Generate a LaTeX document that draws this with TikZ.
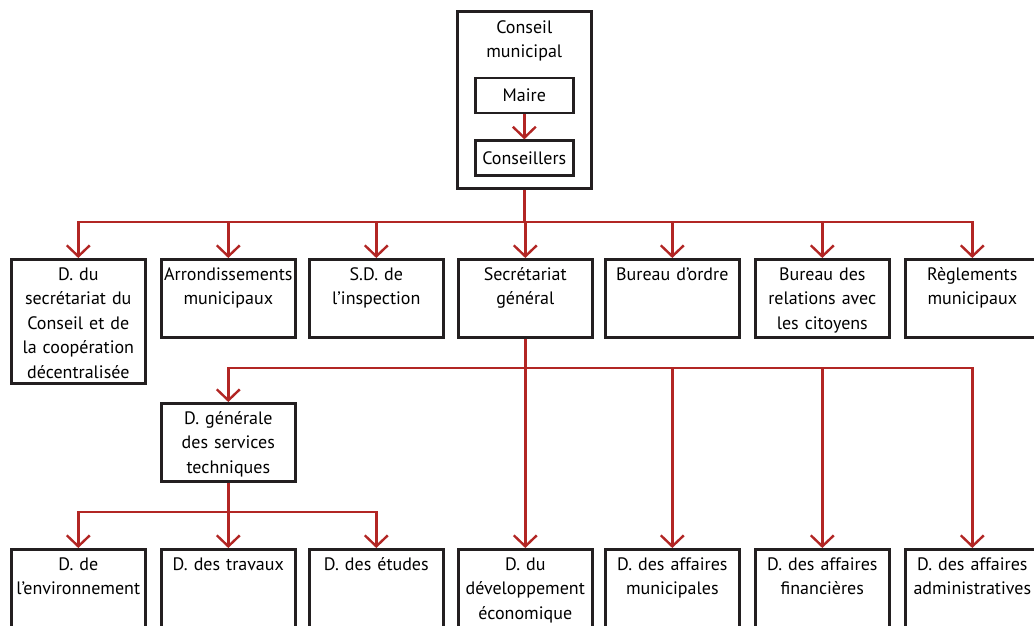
\documentclass[tikz,border=0pt]{standalone}
\usepackage{fontspec}
\setmainfont{PT Sans}
\usetikzlibrary{arrows.meta, positioning}
\definecolor{LinkRed}{RGB}{178, 38, 36}
\definecolor{BoxBlack}{RGB}{35, 31, 32}

\begin{document}
\begin{tikzpicture}[
    x=1pt, y=-1pt,
    unit/.style={
      draw=BoxBlack,
      line width=2.6pt,
      anchor=north west,
      text width=130pt,
      align=center,
      inner xsep=2pt,
      inner ysep=0pt,
      text height=21pt,
      text depth=57pt,
      font=\fontsize{18}{24.5}\selectfont
    },
    member/.style={
      draw=BoxBlack,
      line width=2.4pt,
      minimum width=98pt,
      minimum height=35pt,
      inner sep=0pt,
      font=\fontsize{18}{24.5}\selectfont
    },
    link/.style={draw=LinkRed, line width=2.4pt},
    flow/.style={link, -{Straight Barb[length=11pt, width=23pt]}}
  ]
  \clip (0,0) rectangle (1034,625);

  \node[unit, text height=22pt, text depth=155pt] (conseil) at (456,10) {Conseil\\municipal};
  \node[member, below=67pt of conseil.north] (maire) {Maire};
  \node[member, below=25pt of maire] (conseillers) {Conseillers};
  \draw[flow] (maire) -- (conseillers);

  \node[unit, text depth=103pt] (dsc) at (10,258) {D. du\\secrétariat du\\Conseil et de\\la coopération\\décentralisée};
  \node[unit] (arr) at (160,258) {Arrondissements\\municipaux};
  \node[unit] (sdi) at (308,258) {S.D. de\\l’inspection};
  \node[unit] (sg) at (457,258) {Secrétariat\\général};
  \node[unit] (bo) at (604,258) {Bureau d’ordre};
  \node[unit] (brc) at (754,258) {Bureau des\\relations avec\\les citoyens};
  \node[unit] (reg) at (904,258) {Règlements\\municipaux};

  \node[unit] (dgst) at (160,402) {D. générale\\des services\\techniques};

  \node[unit, text depth=90pt] (denv) at (10,548) {D. de\\l’environnement};
  \node[unit, text depth=90pt] (dtrav) at (160,548) {D. des travaux};
  \node[unit, text depth=90pt] (detu) at (308,548) {D. des études};
  \node[unit, text depth=90pt] (ddev) at (457,548) {D. du\\développement\\économique};
  \node[unit, text depth=90pt] (dmun) at (604,548) {D. des affaires\\municipales};
  \node[unit, text depth=90pt] (dfin) at (754,548) {D. des affaires\\financières};
  \node[unit, text depth=90pt] (dadm) at (904,548) {D. des affaires\\administratives};

  \coordinate (top bus) at (conseil.south |- 0,222);
  \draw[link] (conseil.south) -- (top bus);
  \foreach \n in {dsc, arr, sdi, sg, bo, brc, reg}
    \draw[flow] (top bus) -| (\n.north);

  \coordinate (sg bus) at (sg.south |- 0,368);
  \draw[link] (sg.south) -- (sg bus);
  \foreach \n in {dgst, ddev, dmun, dfin, dadm}
    \draw[flow] (sg bus) -| (\n.north);

  \coordinate (dgst bus) at (dgst.south |- 0,512);
  \draw[link] (dgst.south) -- (dgst bus);
  \foreach \n in {denv, dtrav, detu}
    \draw[flow] (dgst bus) -| (\n.north);
\end{tikzpicture}
\end{document}
